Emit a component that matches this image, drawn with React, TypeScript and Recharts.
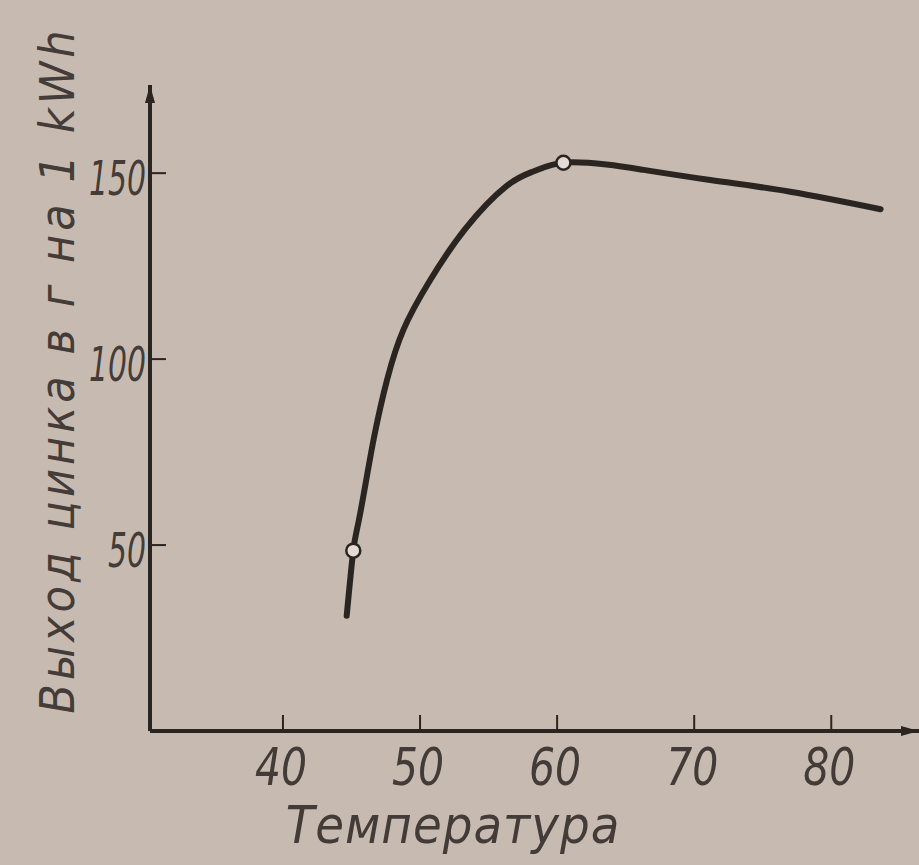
import { LineChart, Line, XAxis, YAxis } from 'recharts';

// temperature (°C) vs zinc yield (g per 1 kWh)
const temperature = [44.65, 45.13, 45.5, 46.1, 46.7, 47.6, 48.8, 50.7, 53.3, 56.3, 58.3, 60.46, 63.6, 66.1, 70.9, 77.0, 83.6];
const zincYield = [31, 48.5, 56, 68, 80, 94.5, 108, 121, 135, 146.5, 150.5, 152.8, 152.3, 151, 148.3, 145, 140.3];
// temperatures where the measured points (open circles) sit
const measuredTemps = [45.13, 60.46];

const xTicks = [40, 50, 60, 70, 80];
const yTicks = [50, 100, 150];

const data = temperature.map((t, i) => ({ t, y: zincYield[i] }));

const INK = '#2b2522';
const PAPER = '#c6bab1';
const FONT = "'DejaVu Sans Condensed', 'DejaVu Sans', sans-serif";

function XTick({ x, y, payload }: any) {
  return (
    <g>
      <line x1={x} y1={y} x2={x} y2={y - 16} stroke={INK} strokeWidth={2} />
      <text x={x - 2} y={y + 54} textAnchor="middle" fontSize={52} fontStyle="italic"
        fontFamily={FONT} fill={INK} fillOpacity={0.85} textLength={52} lengthAdjust="spacingAndGlyphs">
        {payload.value}
      </text>
    </g>
  );
}

function YTick({ x, y, payload }: any) {
  const label = String(payload.value);
  return (
    <g>
      <line x1={x} y1={y} x2={x + 16} y2={y} stroke={INK} strokeWidth={2} />
      <text x={x - 4} y={y + 22} textAnchor="end" fontSize={48} fontStyle="italic"
        fontFamily={FONT} fill={INK} fillOpacity={0.85}
        textLength={label.length * 19} lengthAdjust="spacingAndGlyphs">
        {label}
      </text>
    </g>
  );
}

function MeasuredDot(props: any) {
  const { cx, cy, payload, index } = props;
  if (!measuredTemps.includes(payload.t)) return <g key={index} />;
  return <circle key={index} cx={cx} cy={cy} r={7} fill="#e4dcd4" stroke={INK} strokeWidth={2.5} />;
}

export default function App() {
  return (
    <div style={{ position: 'absolute', left: 0, top: 0, width: 919, height: 865, background: PAPER }}>
      <LineChart width={919} height={865} data={data} margin={{ top: 85, right: 0, bottom: 104, left: 50 }}>
        <defs>
          <marker id="arrowHead" markerWidth={18} markerHeight={12} refX={18} refY={6}
            orient="auto-start-reverse" markerUnits="userSpaceOnUse">
            <path d="M0,1 L18,6 L0,11 z" fill={INK} />
          </marker>
        </defs>
        <XAxis
          dataKey="t"
          type="number"
          height={30}
          domain={[30.3, 86.4]}
          allowDataOverflow
          ticks={xTicks}
          interval={0}
          tickSize={0}
          tickMargin={0}
          tick={<XTick />}
          axisLine={{ stroke: INK, strokeWidth: 4, markerEnd: 'url(#arrowHead)' }}
        />
        <YAxis
          type="number"
          width={100}
          domain={[0, 173.7]}
          allowDataOverflow
          ticks={yTicks}
          interval={0}
          tickSize={0}
          tickMargin={0}
          tick={<YTick />}
          axisLine={{ stroke: INK, strokeWidth: 4, markerStart: 'url(#arrowHead)' }}
        />
        <text x={74} y={370} transform="rotate(-90 74 370)" textAnchor="middle" fontSize={48}
          fontStyle="italic" fontFamily={FONT} fill={INK} fillOpacity={0.85} letterSpacing={4}>
          Выход цинка в г на 1 kWh
        </text>
        <text x={453} y={843} textAnchor="middle" fontSize={52} fontStyle="italic"
          fontFamily={FONT} fill={INK} fillOpacity={0.85} letterSpacing={1}>
          Температура
        </text>
        <Line
          type="natural"
          dataKey="y"
          stroke={INK}
          strokeWidth={6}
          strokeLinecap="round"
          dot={<MeasuredDot />}
          activeDot={false}
          isAnimationActive={false}
        />
      </LineChart>
    </div>
  );
}
